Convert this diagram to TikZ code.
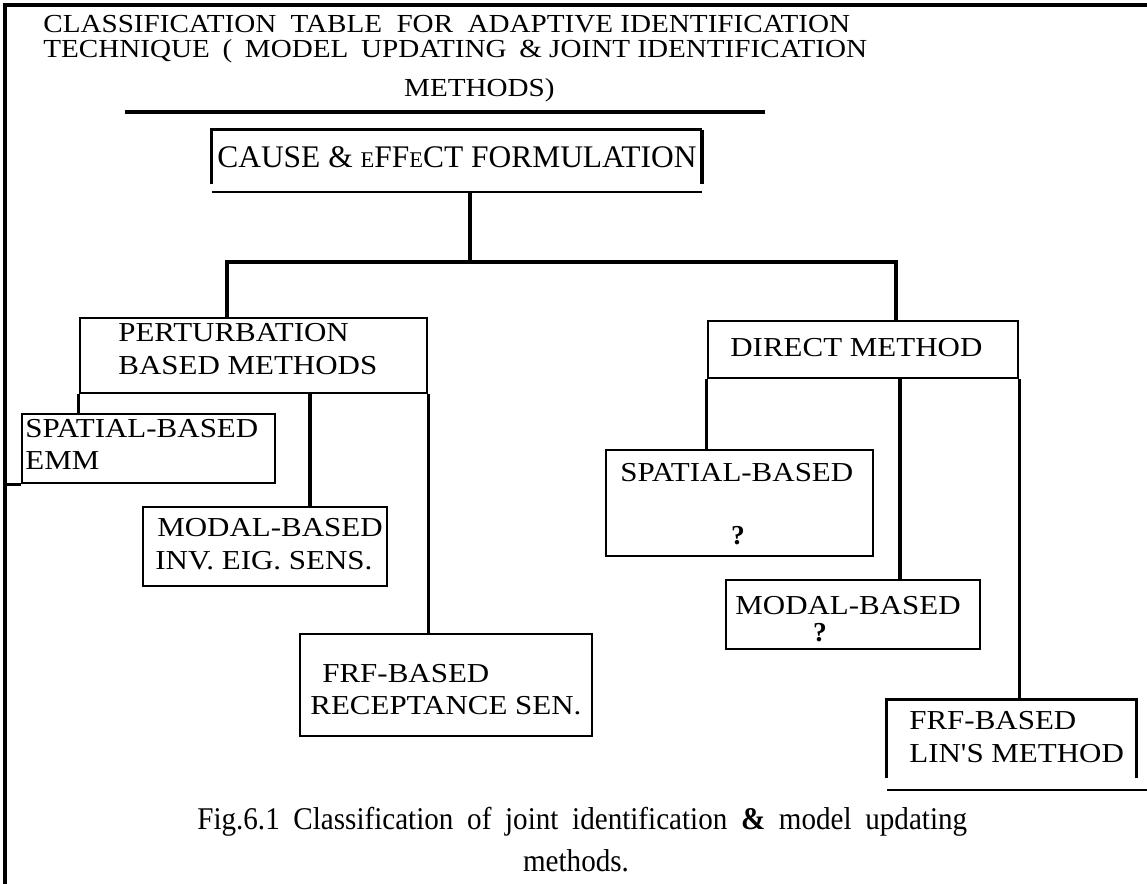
\documentclass[tikz,border=0pt]{standalone}
\usepackage{fontspec}
\setmainfont{Liberation Serif}
\newfontfamily\boxfont{Liberation Serif}[FakeStretch=1.13]
\newfontfamily\ttlfont{Liberation Serif}[FakeStretch=1.12]
\newfontfamily\capfont{Liberation Serif}[FakeStretch=0.92]
\usetikzlibrary{fit}
\begin{document}
\begin{tikzpicture}[x=0.02cm,y=-0.02cm,
  frame/.style={line width=1.9pt},
  box/.style={draw, inner sep=0pt, line width=1.6pt},
  holder/.style={inner sep=0pt},
  edge/.style={line width=1.6pt},
  conn/.style={line width=1.8pt},
  ttl/.style={anchor=base west, inner sep=0pt, font=\ttlfont\fontsize{14.8}{18}\selectfont},
  lbl/.style={anchor=base west, inner sep=0pt, font=\boxfont\fontsize{15.6}{18}\selectfont},
  qmark/.style={anchor=base, inner sep=0pt, font=\fontsize{15.6}{18}\selectfont\bfseries},
  captext/.style={anchor=base west, inner sep=0pt, font=\capfont\fontsize{18}{21}\selectfont}]
\useasboundingbox (0,0) rectangle (1147,884);
% outer frame
\coordinate (fTL) at (5,5);
\coordinate (fTR) at (1147,5);
\coordinate (fBL) at (5,884);
\draw[frame] (fTR) -- (fTL) -- (fBL);
% title
\node[ttl] (t1) at (43,33) {\makebox[16.14cm][l]{CLASSIFICATION\hfill TABLE\hfill FOR\hfill ADAPTIVE IDENTIFICATION}};
\node[ttl] (t2) at (43,58) {\makebox[16.48cm][l]{TECHNIQUE\hfill (\hfill MODEL\hfill UPDATING\hfill \& JOINT IDENTIFICATION}};
\node[ttl, anchor=base east] (t3) at (555,97) {METHODS)};
\coordinate (rl) at (125,112);
\coordinate (rr) at (765,112);
\draw[conn] (rl) -- (rr);
% cause & effect
\node[holder, fit={(212,130) (702,184)}] (cause) {};
\draw[edge] (cause.south west) -- (cause.north west) -- (cause.north east);
\draw[line width=2.4pt] (cause.north east) -- (cause.south east);
\coordinate (cbl) at (212,192);
\coordinate (cbr) at (702,192);
\draw[edge] (cbl) -- (cbr);
\node[anchor=base west, inner sep=0pt, font=\fontsize{17.9}{20}\selectfont] (ctext) at (217,168)
  {CAUSE \& {\fontsize{12.8}{14}\selectfont E}FF{\fontsize{12.8}{14}\selectfont E}CT FORMULATION};
\coordinate (cv) at (470,192);
\coordinate (bl) at (227,262);
\coordinate (br) at (896,262);
% perturbation
\node[box, fit={(80,318) (427,393)}] (pert) {};
\node[lbl] (pt1) at (118,342) {PERTURBATION};
\node[lbl] (pt2) at (118,375) {BASED METHODS};
% direct
\node[box, fit={(708,321) (1018,378)}] (dir) {};
\node[lbl] (dt) at (730,357) {DIRECT METHOD};
% branch connectors
\draw[conn] (cv) -- (cv |- bl);
\draw[conn] (pert.north -| bl) -- (bl) -- (br) -- (dir.north -| br);
% perturbation children
\node[box, fit={(22,414) (275,483)}] (spl) {};
\draw[edge] (spl.south west) -- (spl.south west -| fTL);
\node[lbl] (sl1) at (25,438) {SPATIAL-BASED};
\node[lbl] (sl2) at (25,470) {EMM};
\node[box, fit={(143,507) (387,586)}] (modl) {};
\node[lbl] (ml1) at (157,537) {MODAL-BASED};
\node[lbl] (ml2) at (155,570) {INV. EIG. SENS.};
\node[box, fit={(300,634) (592,736)}] (frfl) {};
\node[lbl] (fl1) at (322,683) {FRF-BASED};
\node[lbl] (fl2) at (310,715) {RECEPTANCE SEN.};
\coordinate (pm) at (310,393);
\draw[conn] (pert.south west) -- (pert.south west |- spl.north);
\draw[conn] (pm) -- (pm |- modl.north);
\draw[conn] (pert.south east) -- (pert.south east |- frfl.north);
% direct children
\node[box, fit={(606,450) (873,556)}] (spr) {};
\node[lbl] (sr1) at (620,482) {SPATIAL-BASED};
\node[qmark] (sr2) at (738,545) {?};
\node[box, fit={(726,580) (980,649)}] (modr) {};
\node[lbl] (mr1) at (735,615) {MODAL-BASED};
\node[qmark] (mr2) at (820,642) {?};
\node[holder, fit={(887,700) (1136,778)}] (lin) {};
\draw[edge] (lin.south west) -- (lin.north west) -- (lin.north east) -- (lin.south east);
\coordinate (linl) at (887,790);
\coordinate (linr) at (1147,790);
\draw[edge] (linl) -- (linr);
\node[lbl] (lr1) at (909,730) {FRF-BASED};
\node[lbl] (lr2) at (909,763) {LIN'S METHOD};
\coordinate (dm) at (900,378);
\draw[conn] (dir.south west) -- (dir.south west |- spr.north);
\draw[conn] (dm) -- (dm |- modr.north);
\draw[conn] (dir.south east) -- (dir.south east |- lin.north);
% caption
\node[captext] (c1) at (197,830) {\makebox[15.4cm][s]{Fig.6.1 Classification of joint identification \textbf{\&} model updating}};
\node[anchor=base, inner sep=0pt, font=\capfont\fontsize{18}{21}\selectfont] (c2) at (576,872) {methods.};
\end{tikzpicture}
\end{document}
